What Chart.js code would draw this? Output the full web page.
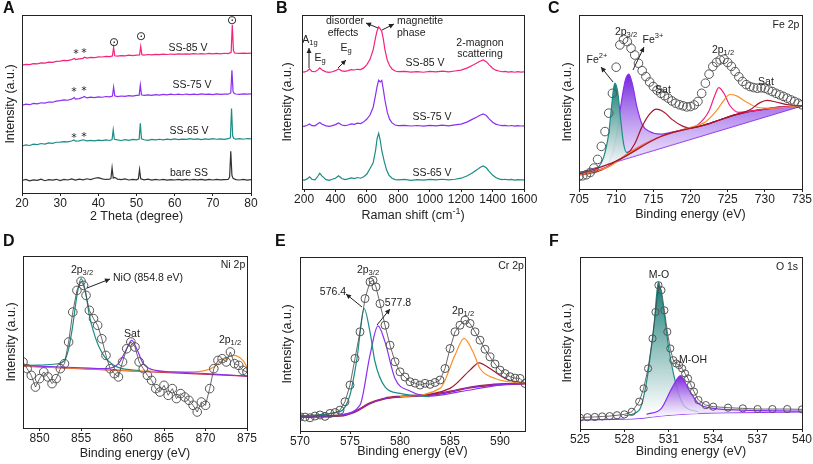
<!DOCTYPE html>
<html>
<head>
<meta charset="utf-8">
<script src="https://cdn.jsdelivr.net/npm/chart.js@4.4.0/dist/chart.umd.min.js"></script>
<style>
  body { margin: 0; background: #fff; width: 813px; height: 464px; position: relative; overflow: hidden; }
  .p { position: absolute; width: 271px; height: 232px; }
</style>
</head>
<body>
<div class="p" style="left:0;top:0"><canvas id="cA"></canvas></div>
<div class="p" style="left:271px;top:0"><canvas id="cB"></canvas></div>
<div class="p" style="left:542px;top:0"><canvas id="cC"></canvas></div>
<div class="p" style="left:0;top:232px"><canvas id="cD"></canvas></div>
<div class="p" style="left:271px;top:232px"><canvas id="cE"></canvas></div>
<div class="p" style="left:542px;top:232px"><canvas id="cF"></canvas></div>
<script>
// ---- A: XRD (2 theta, intensity in arbitrary offset units 0-100)
const xrdTicks = [20, 30, 40, 50, 60, 70, 80];
const xrdBare = [[20,7.0],[21,7.6],[22,6.8],[23,7.4],[24,7.1],[25,7.8],[26,6.9],[27,7.5],[28,7.2],[29,7.7],[30,7.0],[31,7.6],[32,7.3],[33,7.9],[34,7.2],[35,7.8],[36,7.4],[37,8.0],[38,7.5],[39,8.3],[40,8.6],[41,7.9],[42,7.6],[43,7.8],[43.3,8.2],[43.6,14.2],[43.9,8.4],[44.3,8.8],[45,7.8],[46,7.5],[47,7.9],[48,7.3],[49,7.6],[50,7.4],[50.5,8.0],[50.8,13.2],[51.1,8.0],[52,7.4],[53,7.8],[54,7.2],[55,7.6],[56,7.3],[57,7.7],[58,7.2],[59,7.5],[60,7.3],[61,7.7],[62,7.2],[63,7.6],[64,7.3],[65,7.7],[66,7.4],[67,7.6],[68,7.2],[69,7.7],[70,7.3],[71,7.6],[72,7.4],[73,7.5],[74,7.6],[74.4,9.0],[74.7,23.5],[75.0,10.0],[75.3,8.2],[76,7.5],[77,7.3],[78,7.6],[79,7.2],[80,7.5]];
const xrd65 = [[20,26.4],[21,27.0],[22,26.7],[23,27.4],[24,27.2],[25,27.8],[26,27.5],[27,28.1],[28,27.9],[29,28.5],[30,28.6],[31,28.9],[32,28.7],[33,29.2],[33.6,29.8],[34,29.1],[35,29.3],[36,29.9],[37,29.3],[38,29.6],[39,29.3],[40,29.7],[41,29.4],[42,29.8],[43,29.5],[43.6,30.0],[43.9,35.5],[44.2,30.2],[45,29.8],[46,29.5],[47,30.0],[48,29.6],[49,30.1],[50,29.8],[50.7,30.3],[51,39.2],[51.3,30.5],[52,29.9],[53,29.6],[54,30.1],[55,29.8],[56,30.2],[57,29.9],[58,30.3],[59,30.0],[60,30.4],[61,30.0],[62,30.3],[63,30.1],[64,30.5],[65,30.1],[66,30.4],[67,30.0],[68,30.4],[69,30.1],[70,30.5],[71,30.2],[72,30.4],[73,30.1],[74,30.5],[74.6,31.0],[74.9,47.5],[75.2,32.0],[75.5,30.6],[76,30.3],[77,30.5],[78,30.2],[79,30.6],[80,30.4]];
const xrd75 = [[20,49.2],[21,49.9],[22,49.6],[23,50.3],[24,50.1],[25,50.7],[26,50.5],[27,51.1],[28,51.0],[29,51.6],[30,51.9],[31,52.3],[32,52.1],[33,52.7],[33.7,53.6],[34,52.8],[35,53.0],[36,53.8],[36.3,54.2],[37,53.4],[38,53.9],[39,53.6],[40,54.0],[41,53.8],[42,54.2],[43,54.0],[43.7,54.5],[44,59.5],[44.3,54.6],[45,54.2],[46,54.5],[47,54.3],[48,54.7],[49,54.4],[50,54.8],[50.7,55.0],[51,60.7],[51.3,55.2],[52,54.8],[53,55.1],[54,54.9],[55,55.3],[56,55.0],[57,55.4],[58,55.1],[59,55.5],[60,55.2],[61,55.5],[62,55.2],[63,55.6],[64,55.3],[65,55.6],[66,55.3],[67,55.7],[68,55.4],[69,55.6],[70,55.3],[71,55.7],[72,55.4],[73,55.6],[74,55.5],[74.7,56.2],[75,69.0],[75.3,57.0],[75.6,55.9],[76,55.6],[77,55.4],[78,55.7],[79,55.5],[80,55.7]];
const xrd85 = [[20,71.8],[21,72.3],[22,72.1],[23,72.7],[24,72.6],[25,73.1],[26,73.0],[27,73.5],[28,73.4],[29,73.9],[30,74.1],[31,74.5],[32,74.4],[33,74.9],[33.8,75.6],[34,75.0],[35,75.3],[36,75.6],[36.3,76.3],[37,75.8],[38,76.2],[39,76.0],[40,76.5],[41,76.4],[42,76.8],[43,76.6],[43.7,77.0],[44,81.8],[44.3,77.1],[45,76.9],[46,77.2],[47,77.0],[48,77.4],[49,77.2],[50,77.5],[50.8,77.6],[51.1,82.3],[51.4,77.7],[52,77.5],[53,77.8],[54,77.6],[55,77.9],[56,77.7],[57,78.0],[58,77.8],[59,78.1],[60,77.9],[61,78.2],[62,78.0],[63,78.2],[64,78.0],[65,78.3],[66,78.1],[67,78.3],[68,78.1],[69,78.4],[70,78.2],[71,78.4],[72,78.2],[73,78.5],[74,78.3],[74.8,79.0],[75.1,94.5],[75.4,80.0],[75.7,78.7],[76,78.5],[77,78.4],[78,78.6],[79,78.4],[80,78.6]];

// ---- B: Raman
const ramanTicks = [200, 400, 600, 800, 1000, 1200, 1400, 1600];
const raman65 = [[187,5.5],[200,5.0],[220,5.8],[235,7.0],[250,5.6],[270,5.2],[290,7.6],[300,9.0],[315,7.4],[340,5.4],[360,5.0],[380,5.6],[400,6.2],[420,7.6],[440,6.0],[460,5.4],[480,5.8],[500,6.4],[520,6.0],[540,6.6],[560,6.2],[580,7.0],[600,8.6],[620,11.8],[640,15],[655,22],[665,29],[675,32],[685,28],[695,22],[710,16],[725,11],[740,8],[760,6.2],[780,5.4],[800,5.2],[840,5.5],[880,5.0],[920,5.4],[960,5.1],[1000,5.5],[1040,5.2],[1080,5.6],[1120,5.3],[1160,5.6],[1200,6.2],[1240,7.6],[1270,9.2],[1300,11.0],[1320,12.4],[1340,13.2],[1360,12.2],[1380,10.0],[1400,8.0],[1420,6.6],[1440,5.8],[1460,5.4],[1480,5.6],[1500,5.2],[1520,5.5],[1540,5.1],[1560,5.4],[1580,5.2],[1600,5.3]];
const raman75 = [[187,36.2],[200,36.0],[220,36.6],[235,37.4],[250,36.4],[270,36.3],[290,37.6],[300,38.2],[315,37.2],[340,36.3],[360,36.0],[380,36.4],[400,37.0],[420,38.0],[440,36.8],[460,36.4],[480,36.8],[500,37.4],[520,37.2],[540,37.8],[560,37.6],[580,38.6],[600,40.2],[620,42.5],[640,47],[655,54],[665,59],[675,62.5],[685,61.5],[695,62.4],[705,57],[715,51],[730,44],[745,40],[760,38],[780,36.8],[800,36.4],[840,36.6],[880,36.2],[920,36.5],[960,36.1],[1000,36.6],[1040,36.3],[1080,36.7],[1120,36.3],[1160,36.8],[1200,37.3],[1240,38.6],[1270,40.0],[1300,41.4],[1320,42.4],[1340,43.2],[1360,42.2],[1380,40.2],[1400,38.4],[1420,37.3],[1440,36.8],[1460,36.4],[1480,36.6],[1500,36.2],[1520,36.5],[1540,36.1],[1560,36.4],[1580,36.2],[1600,36.3]];
const raman85 = [[187,67.4],[200,67.2],[220,67.8],[235,69.0],[250,67.6],[270,67.4],[290,68.6],[300,69.6],[315,68.4],[340,67.3],[360,67.0],[380,67.4],[400,68.0],[420,69.0],[440,67.9],[460,67.6],[480,68.0],[500,68.6],[520,68.4],[540,68.8],[560,68.6],[580,69.6],[600,71.5],[620,74.5],[640,80],[655,87],[665,91],[675,93.2],[685,92],[695,90.5],[705,86],[715,80],[730,74],[745,70.8],[760,69],[780,67.8],[800,67.4],[840,67.6],[880,67.2],[920,67.5],[960,67.1],[1000,67.6],[1040,67.3],[1080,67.7],[1120,67.3],[1160,67.8],[1200,68.3],[1240,69.6],[1270,71.0],[1300,72.4],[1320,73.4],[1340,74.2],[1360,73.2],[1380,71.2],[1400,69.4],[1420,68.3],[1440,67.8],[1460,67.4],[1480,67.6],[1500,67.2],[1520,67.5],[1540,67.1],[1560,67.4],[1580,67.2],[1600,67.3]];

// ---- C: Fe 2p
const feTicks = [705, 710, 715, 720, 725, 730, 735];
const feRaw = [[705,7.3],[705.5,7.6],[706,8.2],[706.5,9.5],[707,12],[707.5,17],[708,24.5],[708.5,33],[709,43.6],[709.5,55],[710,70],[710.5,82.8],[711,86],[711.5,84.7],[712,80.9],[712.5,77],[713,72.3],[713.5,68],[714,64.6],[714.5,61.5],[715,58.9],[715.5,56.8],[716,55],[716.5,53.6],[717,52.2],[717.5,50.6],[718,49.3],[718.5,48.4],[719,47.8],[719.5,47.2],[720,47.4],[720.5,48.3],[721,50.3],[721.5,55],[722,60.8],[722.5,66],[723,70.4],[723.5,72.8],[724,74.2],[724.5,74.6],[725,72.7],[725.5,70.5],[726,67.5],[726.5,64.5],[727,61.8],[727.5,60],[728,58.9],[728.5,58.3],[729,57.9],[729.5,58.2],[730,57.9],[730.5,57.0],[731,56],[731.5,55],[732,54.1],[732.5,53.2],[733,52.2],[733.5,51.2],[734,50.3],[734.5,49.3],[735,48.4]];
const feFe2 = [[706.5,9.5],[707.5,12],[708.3,18],[709,32],[709.4,48],[709.8,60.8],[710.2,56],[710.6,40],[711,26],[711.4,21],[712,21.8]];
const feFe3 = [[705,8.5],[707,10],[708,12],[709,15],[710,30],[710.7,50],[711.2,62],[711.7,66],[712.2,60],[712.8,47],[713.5,37],[714.5,33],[716,31.5],[718,33.2],[720,35],[722,36.9],[724,39.8],[726,42.6],[728,44.6],[730,45.9],[732,47],[735,47.8]];
const feSat1 = [[705,8.2],[708,11],[710,16],[711.5,20],[712.5,26],[713.5,36],[714.5,43],[715.4,45.9],[716.5,44],[717.5,40],[719,36],[720,35],[722,36.9],[724,39.8],[726,42.6],[728,44.6],[730,45.9],[732,47],[735,47.8]];
const fePink = [[705,8.2],[709,13],[712,21.6],[716,30.2],[719,34.2],[721,37],[722.5,45],[723.2,53],[723.8,58.3],[724.5,55],[725.3,48],[726.5,44],[728,44.8],[730,45.9],[735,47.8]];
const feOrange = [[705,8.0],[709,12.8],[712,21.4],[716,30],[720,35.4],[722,38.5],[723.5,45],[724.5,51],[725.3,54.3],[726.2,53.5],[727.5,50],[729,47],[731,46.5],[735,47.8]];
const feSat2 = [[705,8.5],[710,16],[716,30.2],[722,37],[726,42.6],[728,45.5],[729.3,49.5],[730.3,50.9],[731.5,50],[733,48.5],[735,47.8]];
const feShirley = [[705,8.2],[707,9.2],[708,11],[709,13],[710,15.9],[712,21.6],[714,26.4],[716,30.2],[718,33],[720,35],[722,36.9],[724,39.8],[726,42.6],[728,44.6],[730,45.9],[732,47],[735,47.8]];
const feLinear = [[705,9.2],[735,47.8]];

// ---- D: Ni 2p
const niTicks = [850, 855, 860, 865, 870, 875];
const niRaw = [[848,38.4],[848.5,34.5],[849,30.6],[849.5,23.8],[850,28.7],[850.5,32.6],[851,29.7],[851.5,25.8],[852,28.7],[852.5,34.5],[853,37.4],[853.5,50],[854,67.4],[854.5,80],[855,85.3],[855.3,82.9],[855.6,77.1],[856,68.4],[856.5,63.6],[857,59.7],[857.5,51.9],[858,42.2],[858.5,34.5],[859,31.6],[859.5,29.7],[860,38.4],[860.5,46.1],[861,50],[861.5,47.1],[862,38.4],[862.5,34.5],[863,30.6],[863.5,27.7],[864,22.9],[864.5,20.9],[865,24.8],[865.5,19],[866,22.9],[866.5,17.1],[867,20],[867.5,18],[868,16.1],[868.5,13.2],[869,9.3],[869.5,15.1],[870,13.2],[870.5,22.9],[871,34.5],[871.5,39.3],[872,40.3],[872.5,38.4],[873,44.2],[873.5,37.4],[874,36.4],[874.5,33.5],[875,32.6]];
const niMain = [[848,36.4],[850,36.6],[852,37.2],[853,39.3],[853.5,46],[854,59.7],[854.5,77],[855,86.8],[855.5,80],[856,65.5],[856.5,56],[857,49],[858,40.3],[859,36.4],[860,34.5],[862,33.5]];
const niSat = [[848,36.4],[852,35.6],[856,34.8],[858,34.5],[859.5,37.4],[860.5,46.1],[861.1,51],[861.7,46.1],[862.5,37.4],[864,33.5],[867,32.4],[870,31.6],[875,30.2]];
const niHalf = [[848,36.0],[855,34.6],[860,33.6],[865,32.8],[868,32.6],[870,33.5],[871,35.5],[872,39.3],[873.4,42.2],[874.5,39.3],[875,35.5]];
const niBg = [[848,35.9],[875,30.2]];

// ---- E: Cr 2p
const crTicks = [570, 575, 580, 585, 590];
const crRaw = [[570,8.2],[570.5,8.0],[571,7.6],[571.5,8.6],[572,9.2],[572.5,8.4],[573,10.1],[573.5,10.6],[574,12],[574.5,16.8],[575,26.4],[575.5,41.7],[576,57],[576.5,76.1],[577,85.7],[577.3,86.6],[577.6,82.8],[578,73.2],[578.5,60.8],[579,49.3],[579.5,39.8],[580,34],[580.5,31],[581,28.3],[581.5,27.5],[582,26.4],[582.5,27.4],[583,26.8],[583.5,27.9],[584,29.3],[584.5,35.9],[585,47.4],[585.5,57],[586,60.8],[586.5,63.7],[587,61.8],[587.5,57],[588,52.2],[588.5,47],[589,42.6],[589.5,38.5],[590,35],[590.5,33],[591,31.2],[591.5,30.4],[592,30.2],[592.5,27.3]];
const crA = [[570,8.8],[574,11.1],[575,20.7],[575.7,41.7],[576.4,70.4],[577,57],[577.5,39.8],[578.5,25.4],[580,21.6],[583,19.7]];
const crB = [[574,9.2],[576,14.9],[577,43.6],[577.8,60.4],[578.5,51.2],[579.5,30.2],[581,23],[583,20.1],[586,22.6],[590,26.4],[592.5,27.3]];
const crC = [[580,19.7],[584,24.5],[585.5,43.6],[586.4,53.2],[587.3,45.5],[588,35.9],[589.5,30.2],[592.5,27.3]];
const crD = [[580,19.7],[585,24.5],[587,35],[587.9,39.2],[589,35.9],[590.5,30.2],[592.5,27.3]];
const crBg = [[570,8.2],[574,8.8],[575.5,11.1],[577,15.9],[578.5,18.7],[580,19.7],[583,20.7],[585,22.6],[587,25],[589,26.4],[592.5,27.3]];

// ---- F: O 1s
const oTicks = [525, 528, 531, 534, 537, 540];
const oRaw = [[525,6.6],[525.5,6.9],[526,7.0],[526.5,7.3],[527,7.5],[527.5,8.0],[528,8.5],[528.5,10],[529,15.9],[529.3,23.6],[529.6,35.2],[529.9,52.6],[530.1,68],[530.3,83.6],[530.5,80.7],[530.7,69],[530.9,56.5],[531.1,46.8],[531.3,40],[531.5,38.1],[531.7,37.1],[531.9,35.2],[532.1,32.3],[532.3,29.4],[532.5,25.5],[532.7,21.7],[533,16.8],[533.5,13.9],[534,13],[535,12.4],[536,12],[537,11.6],[538,11.6],[539,11.6],[540,11.4]];
const oMO = [[528,7.7],[529,11],[529.5,27.5],[530,60.3],[530.3,85.5],[530.6,72],[531,46.8],[531.5,25.5],[532,13.9],[533,10]];
const oMOH = [[529.5,8.5],[530.5,12],[531.2,23.6],[531.8,31],[532.3,23.6],[533,14.9],[534,12],[536,11],[540,10.4]];
const oBg = [[525,5.2],[529,6.2],[530,7.2],[531,8.1],[532,8.7],[535,9.5],[540,10]];

const FONT = '"Liberation Sans", Arial, sans-serif';
const PINK = '#f2247c', PURPLE = '#8b2ff0', TEAL = '#1c8c86', GRAY = '#333333';
const ORANGE = '#f7932f', DARKRED = '#a3182c', CIRC = '#555555';

function line(data, color, extra) {
  return Object.assign({ data, borderColor: color, borderWidth: 1.2, pointRadius: 0, fill: false }, extra || {});
}
function fit(data, color, extra) {
  return line(data, color, Object.assign({ cubicInterpolationMode: 'monotone', borderWidth: 1.2 }, extra || {}));
}
function circles(data, withLine, r) {
  return {
    data, showLine: withLine, borderColor: '#444', borderWidth: 0.8,
    pointRadius: r || 4, pointStyle: 'circle', pointBorderColor: CIRC, pointBorderWidth: 1,
    pointBackgroundColor: 'rgba(255,255,255,0)', fill: false
  };
}
function vgrad(top, bot, c1, c2) {
  return function (ctx) {
    const ch = ctx.chart;
    if (!ch.chartArea) return c1;
    const y = ch.scales.y;
    const g = ch.ctx.createLinearGradient(0, y.getPixelForValue(top), 0, y.getPixelForValue(bot));
    g.addColorStop(0, c1);
    g.addColorStop(1, c2);
    return g;
  };
}

function rich(ctx, parts, x, y, size, align, color) {
  let w = 0;
  parts.forEach(p => {
    ctx.font = (p[1] ? size * 0.72 : size) + 'px ' + FONT;
    w += ctx.measureText(p[0]).width;
  });
  let cx = align === 'left' ? x : x - w / 2;
  ctx.fillStyle = color || '#222';
  ctx.textAlign = 'left';
  ctx.textBaseline = 'middle';
  parts.forEach(p => {
    const s = p[1] ? size * 0.72 : size;
    ctx.font = s + 'px ' + FONT;
    const dy = p[1] === -1 ? size * 0.3 : p[1] === 1 ? -size * 0.35 : 0;
    ctx.fillText(p[0], cx, y + dy);
    cx += ctx.measureText(p[0]).width;
  });
}
function arrow(ctx, x1, y1, x2, y2) {
  ctx.strokeStyle = '#222';
  ctx.fillStyle = '#222';
  ctx.lineWidth = 1;
  ctx.beginPath(); ctx.moveTo(x1, y1); ctx.lineTo(x2, y2); ctx.stroke();
  const a = Math.atan2(y2 - y1, x2 - x1);
  ctx.beginPath();
  ctx.moveTo(x2, y2);
  ctx.lineTo(x2 - 5 * Math.cos(a) + 2.5 * Math.sin(a), y2 - 5 * Math.sin(a) - 2.5 * Math.cos(a));
  ctx.lineTo(x2 - 5 * Math.cos(a) - 2.5 * Math.sin(a), y2 - 5 * Math.sin(a) + 2.5 * Math.cos(a));
  ctx.closePath(); ctx.fill();
}

function deco(d) {
  return {
    id: 'deco',
    afterDraw(chart) {
      const ctx = chart.ctx, a = chart.chartArea;
      ctx.save();
      ctx.strokeStyle = '#222'; ctx.lineWidth = 1;
      ctx.strokeRect(a.left + 0.5, a.top + 0.5, a.right - a.left, a.bottom - a.top);
      // panel letter
      ctx.font = 'bold 16px ' + FONT; ctx.fillStyle = '#111';
      ctx.textAlign = 'left'; ctx.textBaseline = 'middle';
      ctx.fillText(d.letter, d.lx, d.ly);
      // axis titles
      rich(ctx, d.xTitle, (a.left + a.right) / 2, d.xTitleY, 12.5, 'center');
      ctx.save();
      ctx.translate(d.yTitleX, (a.top + a.bottom) / 2);
      ctx.rotate(-Math.PI / 2);
      rich(ctx, [['Intensity (a.u.)', 0]], 0, 0, 12.5, 'center');
      ctx.restore();
      (d.notes || []).forEach(n => rich(ctx, n.p, n.x, n.y, n.s || 10.5, n.a || 'center', n.c));
      (d.arrows || []).forEach(r => arrow(ctx, r[0], r[1], r[2], r[3]));
      (d.glyphs || []).forEach(g => {
        ctx.font = (g.s || 12) + 'px "DejaVu Sans", sans-serif';
        ctx.fillStyle = '#222'; ctx.textAlign = 'center'; ctx.textBaseline = 'middle';
        ctx.fillText(g.t, g.x, g.y);
      });
      ctx.restore();
    }
  };
}

function panel(id, box, xMin, xMax, ticks, datasets, d) {
  return new Chart(document.getElementById(id), {
    type: 'line',
    data: { datasets },
    options: {
      responsive: true, maintainAspectRatio: false, animation: false,
      events: [],
      layout: { padding: { top: box.T, right: 271 - box.R, left: 0, bottom: 0 } },
      plugins: { legend: { display: false }, tooltip: { enabled: false } },
      scales: {
        x: {
          type: 'linear', min: xMin, max: xMax,
          afterFit: s => { s.height = 232 - box.B; },
          afterBuildTicks: s => { s.ticks = ticks.map(v => ({ value: v })); },
          ticks: { color: '#222', font: { family: FONT, size: 12 }, padding: 0, maxRotation: 0, autoSkip: false, callback: v => String(v) },
          grid: { drawOnChartArea: false, tickLength: 3, color: '#222' },
          border: { display: false }
        },
        y: {
          min: 0, max: 100,
          afterFit: s => { s.width = box.L; },
          ticks: { display: false }, grid: { display: false }, border: { display: false }
        }
      }
    },
    plugins: [deco(d)]
  });
}

const star = (x, y) => ({ t: '*', x, y, s: 11 });
const odot = (x, y) => ({ t: '\u2299', x, y, s: 12 });

panel('cA', { L: 22, R: 251, T: 15, B: 193 }, 20, 80, xrdTicks, [
  line(xrd85, PINK), line(xrd75, PURPLE), line(xrd65, TEAL), line(xrdBare, GRAY)
], {
  letter: 'A', lx: 3, ly: 9, yTitleX: 11, xTitleY: 217, xTitle: [['2 Theta (degree)', 0]],
  notes: [
    { p: [['SS-85 V', 0]], x: 188, y: 48 }, { p: [['SS-75 V', 0]], x: 192, y: 85 },
    { p: [['SS-65 V', 0]], x: 189, y: 131 }, { p: [['bare SS', 0]], x: 189, y: 173 }
  ],
  glyphs: [star(76, 54), star(84, 53), star(74, 92), star(84, 91), star(74, 138), star(84, 137),
    odot(114, 43), odot(141, 37), odot(232, 21)]
});

panel('cB', { L: 31, R: 253, T: 15, B: 189 }, 187, 1600, ramanTicks, [
  line(raman85, PINK), line(raman75, PURPLE), line(raman65, TEAL)
], {
  letter: 'B', lx: 5, ly: 9, yTitleX: 17, xTitleY: 216, xTitle: [['Raman shift (cm', 0], ['-1', 1], [')', 0]],
  notes: [
    { p: [['A', 0], ['1g', -1]], x: 39, y: 40 }, { p: [['E', 0], ['g', -1]], x: 49, y: 58 },
    { p: [['E', 0], ['g', -1]], x: 75, y: 48 },
    { p: [['disorder', 0]], x: 74, y: 21 }, { p: [['effects', 0]], x: 72, y: 33 },
    { p: [['magnetite', 0]], x: 126, y: 21, a: 'left' }, { p: [['phase', 0]], x: 126, y: 33, a: 'left' },
    { p: [['2-magnon', 0]], x: 209, y: 43 }, { p: [['scattering', 0]], x: 209, y: 54 },
    { p: [['SS-85 V', 0]], x: 154, y: 63 }, { p: [['SS-75 V', 0]], x: 161, y: 117 },
    { p: [['SS-65 V', 0]], x: 161, y: 173 }
  ],
  arrows: [[38, 68, 38, 48], [67, 68, 75, 60], [107, 28, 95, 23], [111, 30, 123, 24]]
});

panel('cC', { L: 37, R: 260, T: 15, B: 189 }, 705, 735, feTicks, [
  circles(feRaw, false, 4.3),
  fit(feSat2, DARKRED), fit(feOrange, ORANGE), fit(fePink, PINK), fit(feSat1, DARKRED),
  fit(feFe2, TEAL, { fill: 7, backgroundColor: vgrad(61, 12, '#157a74', 'rgba(255,255,255,0.9)') }),
  fit(feFe3, PURPLE, { fill: 8, backgroundColor: vgrad(66, 10, '#7224dc', 'rgba(240,232,252,0.6)') }),
  fit(feShirley, '#d9502a'), line(feLinear, PURPLE)
], {
  letter: 'C', lx: 6, ly: 9, yTitleX: 26, xTitleY: 215, xTitle: [['Binding energy (eV)', 0]],
  notes: [
    { p: [['Fe 2p', 0]], x: 244, y: 25 }, { p: [['2p', 0], ['3/2', -1]], x: 84, y: 32 },
    { p: [['Fe', 0], ['3+', 1]], x: 111, y: 40 }, { p: [['Fe', 0], ['2+', 1]], x: 55, y: 60 },
    { p: [['Sat', 0]], x: 121, y: 90 }, { p: [['2p', 0], ['1/2', -1]], x: 181, y: 50 },
    { p: [['Sat', 0]], x: 224, y: 82 }
  ],
  arrows: [[71, 82, 59, 67], [91, 70, 102, 47]]
});

panel('cD', { L: 23, R: 247, T: 24, B: 196 }, 848, 875, niTicks, [
  circles(niRaw, true, 4.3),
  fit(niMain, TEAL), fit(niSat, PURPLE), fit(niHalf, ORANGE), line(niBg, '#d02a3a')
], {
  letter: 'D', lx: 3, ly: 10, yTitleX: 12, xTitleY: 222, xTitle: [['Binding energy (eV)', 0]],
  notes: [
    { p: [['Ni 2p', 0]], x: 233, y: 33 }, { p: [['2p', 0], ['3/2', -1]], x: 82, y: 38 },
    { p: [['NiO (854.8 eV)', 0]], x: 113, y: 46, a: 'left' },
    { p: [['Sat', 0]], x: 132, y: 102 }, { p: [['2p', 0], ['1/2', -1]], x: 230, y: 108 }
  ],
  arrows: [[87, 56, 110, 47]]
});

panel('cE', { L: 29, R: 254, T: 25, B: 199 }, 570, 592.5, crTicks, [
  circles(crRaw, true, 4),
  fit(crA, TEAL), fit(crB, PURPLE), fit(crC, ORANGE), fit(crD, DARKRED),
  fit(crBg, PURPLE, { borderWidth: 1 }), fit(crBg, DARKRED, { borderWidth: 2.2 })
], {
  letter: 'E', lx: 4, ly: 10, yTitleX: 17, xTitleY: 220, xTitle: [['Binding energy (eV)', 0]],
  notes: [
    { p: [['Cr 2p', 0]], x: 240, y: 34 }, { p: [['2p', 0], ['3/2', -1]], x: 97, y: 38 },
    { p: [['576.4', 0]], x: 62, y: 60 }, { p: [['577.8', 0]], x: 127, y: 71 },
    { p: [['2p', 0], ['1/2', -1]], x: 192, y: 79 }
  ],
  arrows: [[91, 75, 75, 62], [106, 93, 119, 77]]
});

panel('cF', { L: 38, R: 260, T: 25, B: 197 }, 525, 540, oTicks, [
  circles(oRaw, true, 3.6),
  fit(oMOH, PURPLE, { fill: 3, backgroundColor: vgrad(31, 8, '#7a22dc', 'rgba(245,238,253,0.7)') }),
  fit(oMO, TEAL, { fill: 3, backgroundColor: vgrad(85, 9, '#157a74', 'rgba(255,255,255,0.9)') }),
  fit(oBg, PURPLE)
], {
  letter: 'F', lx: 7, ly: 10, yTitleX: 26, xTitleY: 220, xTitle: [['Binding energy (eV)', 0]],
  notes: [
    { p: [['O 1s', 0]], x: 245, y: 35 }, { p: [['M-O', 0]], x: 117, y: 43 },
    { p: [['M-OH', 0]], x: 151, y: 128 }
  ]
});
</script>
</body>
</html>
